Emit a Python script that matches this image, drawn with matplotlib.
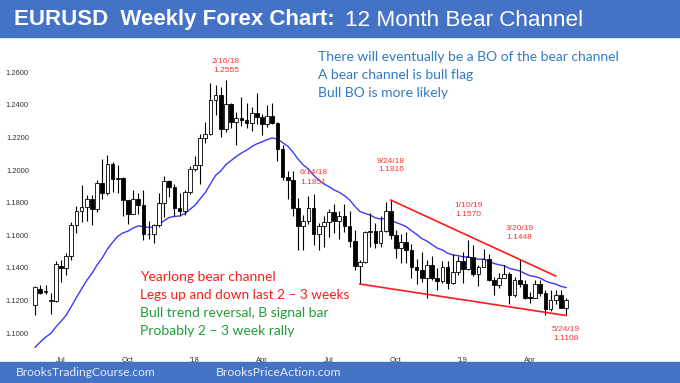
import numpy as np
import pandas as pd
import matplotlib
matplotlib.use("Agg")
import matplotlib.pyplot as plt
from matplotlib import font_manager as fm
from matplotlib.patches import Rectangle

# ---------------- data ----------------
start_week = "2017-05-29"
opens = [1.1172, 1.1272, 1.1252, 1.1196, 1.1197, 1.1412, 1.1400, 1.1470, 1.1664, 1.1750,
         1.1773, 1.1822, 1.1759, 1.1923, 1.1860, 1.2035, 1.1944, 1.1949, 1.1814, 1.1733,
         1.1823, 1.1785, 1.1608, 1.1607, 1.1664, 1.1796, 1.1935, 1.1899, 1.1768, 1.1751,
         1.1863, 1.2004, 1.2030, 1.2198, 1.2222, 1.2427, 1.2461, 1.2252, 1.2407, 1.2294,
         1.2318, 1.2307, 1.2288, 1.2353, 1.2324, 1.2280, 1.2331, 1.2288, 1.2129, 1.1960,
         1.1940, 1.1770, 1.1655, 1.1690, 1.1770, 1.1610, 1.1658, 1.1684, 1.1745, 1.1686,
         1.1719, 1.1656, 1.1567, 1.1410, 1.1438, 1.1622, 1.1624, 1.1553, 1.1625, 1.1747,
         1.1604, 1.1524, 1.1560, 1.1512, 1.1403, 1.1389, 1.1336, 1.1416, 1.1337, 1.1319,
         1.1404, 1.1305, 1.1372, 1.1441, 1.1394, 1.1468, 1.1364, 1.1408, 1.1457, 1.1326,
         1.1294, 1.1336, 1.1365, 1.1236, 1.1326, 1.1301, 1.1218, 1.1217, 1.1299, 1.1245,
         1.1150, 1.1200, 1.1234, 1.1157]
highs = [1.1290, 1.1296, 1.1295, 1.1246, 1.1445, 1.1448, 1.1490, 1.1680, 1.1777, 1.1910,
         1.1846, 1.1848, 1.1941, 1.2070, 1.2092, 1.2050, 1.2034, 1.1956, 1.1817, 1.1880,
         1.1860, 1.1880, 1.1688, 1.1667, 1.1861, 1.1961, 1.1940, 1.1912, 1.1862, 1.1880,
         1.2023, 1.2089, 1.2219, 1.2297, 1.2537, 1.2520, 1.2507, 1.2555, 1.2413, 1.2356,
         1.2446, 1.2413, 1.2388, 1.2476, 1.2346, 1.2397, 1.2414, 1.2296, 1.2154, 1.1996,
         1.1996, 1.1829, 1.1723, 1.1839, 1.1851, 1.1676, 1.1721, 1.1764, 1.1791, 1.1747,
         1.1790, 1.1749, 1.1635, 1.1450, 1.1625, 1.1734, 1.1676, 1.1720, 1.1802, 1.1816,
         1.1630, 1.1608, 1.1622, 1.1548, 1.1456, 1.1500, 1.1450, 1.1472, 1.1401, 1.1443,
         1.1442, 1.1486, 1.1474, 1.1498, 1.1570, 1.1540, 1.1416, 1.1514, 1.1488, 1.1342,
         1.1371, 1.1419, 1.1374, 1.1345, 1.1448, 1.1325, 1.1255, 1.1324, 1.1323, 1.1266,
         1.1265, 1.1264, 1.1264, 1.1216]
lows = [1.1111, 1.1240, 1.1240, 1.1120, 1.1190, 1.1313, 1.1355, 1.1450, 1.1612, 1.1683,
        1.1689, 1.1662, 1.1741, 1.1823, 1.1850, 1.1868, 1.1861, 1.1717, 1.1669, 1.1730,
        1.1731, 1.1574, 1.1575, 1.1554, 1.1652, 1.1714, 1.1836, 1.1717, 1.1718, 1.1722,
        1.1855, 1.1995, 1.1916, 1.2165, 1.2214, 1.2336, 1.2206, 1.2235, 1.2260, 1.2154,
        1.2273, 1.2258, 1.2241, 1.2281, 1.2215, 1.2262, 1.2281, 1.2055, 1.1939, 1.1821,
        1.1717, 1.1510, 1.1508, 1.1669, 1.1541, 1.1508, 1.1527, 1.1591, 1.1614, 1.1575,
        1.1622, 1.1529, 1.1387, 1.1301, 1.1430, 1.1528, 1.1525, 1.1526, 1.1620, 1.1575,
        1.1463, 1.1431, 1.1432, 1.1335, 1.1301, 1.1315, 1.1216, 1.1325, 1.1267, 1.1310,
        1.1269, 1.1300, 1.1355, 1.1309, 1.1390, 1.1353, 1.1289, 1.1405, 1.1321, 1.1234,
        1.1277, 1.1335, 1.1176, 1.1220, 1.1284, 1.1211, 1.1183, 1.1215, 1.1226, 1.1111,
        1.1136, 1.1176, 1.1152, 1.1108]
closes = [1.1283, 1.1246, 1.1258, 1.1200, 1.1424, 1.1400, 1.1470, 1.1664, 1.1750, 1.1773,
          1.1822, 1.1759, 1.1923, 1.1860, 1.2035, 1.1944, 1.1949, 1.1814, 1.1733, 1.1823,
          1.1785, 1.1608, 1.1607, 1.1664, 1.1796, 1.1935, 1.1899, 1.1768, 1.1751, 1.1863,
          1.2004, 1.2030, 1.2198, 1.2222, 1.2427, 1.2461, 1.2252, 1.2407, 1.2294, 1.2318,
          1.2307, 1.2288, 1.2353, 1.2324, 1.2280, 1.2331, 1.2288, 1.2129, 1.1960, 1.1940,
          1.1770, 1.1655, 1.1690, 1.1770, 1.1610, 1.1658, 1.1684, 1.1745, 1.1686, 1.1719,
          1.1656, 1.1567, 1.1410, 1.1438, 1.1622, 1.1624, 1.1553, 1.1625, 1.1747, 1.1604,
          1.1524, 1.1560, 1.1512, 1.1403, 1.1389, 1.1336, 1.1416, 1.1337, 1.1319, 1.1404,
          1.1305, 1.1372, 1.1441, 1.1394, 1.1468, 1.1364, 1.1408, 1.1457, 1.1326, 1.1294,
          1.1336, 1.1365, 1.1236, 1.1326, 1.1301, 1.1218, 1.1217, 1.1299, 1.1245, 1.1150,
          1.1200, 1.1234, 1.1157, 1.1203]

ema_period = 20
ema_seed = 1.0875          # level of the 20-bar EMA just before the first bar

y_ticks = [1.1000, 1.1200, 1.1400, 1.1600, 1.1800, 1.2000, 1.2200, 1.2400, 1.2600]
x_tick_months = ["2017-07", "2017-10", "2018-01", "2018-04", "2018-07", "2018-10", "2019-01", "2019-04"]
x_tick_labels = ["Jul", "Oct", "'18", "Apr", "Jul", "Oct", "'19", "Apr"]

# swing labels: bar index, text, above/below
swing_bars = [37, 54, 69, 84, 94, 103]
swing_dates = ["2/16/18", "6/14/18", "9/24/18", "1/10/19", "3/20/19", "5/24/19"]
swing_values = ["1.2555", "1.1851", "1.1816", "1.1570", "1.1448", "1.1108"]
swing_side = ["high", "high", "high", "high", "high", "low"]

# bear channel lines (bar index, price)
upper_line_x = [69, 101]
upper_line_y = [1.1816, 1.1350]
lower_line_x = [63, 103]
lower_line_y = [1.1301, 1.1108]

title_bold = "EURUSD  Weekly Forex Chart:"
title_rest = "12 Month Bear Channel"
blue_notes = ["There will eventually be a BO of the bear channel",
              "A bear channel is bull flag",
              "Bull BO is more likely"]
red_notes = ["Yearlong bear channel", "Legs up and down last 2 \u2013 3 weeks"]
green_notes = ["Bull trend reversal, B signal bar", "Probably 2 \u2013 3 week rally"]
footer = ["BrooksTradingCourse.com", "BrooksPriceAction.com"]

# ---------------- helpers ----------------
W, H = 680, 383
DPI = 100


def pick(fams):
    for f in fams:
        try:
            fm.findfont(fm.FontProperties(family=f), fallback_to_default=False)
            return f
        except Exception:
            continue
    return "DejaVu Sans"


narrow = pick(["Liberation Sans Narrow", "Arial Narrow", "Liberation Sans"])
sans = pick(["Liberation Sans", "DejaVu Sans"])
calib = pick(["Lato", "Open Sans", "DejaVu Sans"])

dates = pd.date_range(start_week, periods=len(closes), freq="W-MON")
fridays = dates + pd.Timedelta(days=4)
idx = np.arange(len(closes))
O = np.array(opens); Hh = np.array(highs); L = np.array(lows); C = np.array(closes)

ema = []
prev = ema_seed
a = 2.0 / (ema_period + 1)
for c in C:
    prev = prev + a * (c - prev)
    ema.append(prev)

fig = plt.figure(figsize=(W / DPI, H / DPI), dpi=DPI)
fig.patch.set_facecolor("white")


def P(x, y):
    return x / W, 1 - y / H


# axes placement (pixel box)
ax_l, ax_r, ax_t, ax_b = 33, 680, 38, 350
ax = fig.add_axes([ax_l / W, 1 - ax_b / H, (ax_r - ax_l) / W, (ax_b - ax_t) / H])
ax.set_facecolor("white")
for s in ax.spines.values():
    s.set_visible(False)

# price scale: 0.02 per 32.6 px, 1.2600 at y=72.3
ppx = 0.02 / 32.6
ax.set_ylim(1.26 - (ax_b - 72.3) * ppx, 1.26 + (72.3 - ax_t) * ppx)
bpx = 5.154
x0 = 35.2
ax.set_xlim((ax_l - x0) / bpx, (ax_r - x0) / bpx)

# candles
ax.vlines(idx, L, Hh, color="black", lw=0.8, zorder=2)
up = C >= O
body_lo = np.minimum(O, C)
body_h = np.maximum(np.abs(C - O), 0.0003)
ax.bar(idx[up], body_h[up], bottom=body_lo[up], width=0.72, color="white",
       edgecolor="black", linewidth=0.6, zorder=3)
ax.bar(idx[~up], body_h[~up], bottom=body_lo[~up], width=0.72, color="black",
       edgecolor="black", linewidth=0.6, zorder=3)

# EMA
ax.plot(idx, ema, color="#3b3bf5", lw=1.0, zorder=1)

# channel lines
ax.plot(upper_line_x, upper_line_y, color="#ff1a1a", lw=1.2, zorder=4)
ax.plot(lower_line_x, lower_line_y, color="#ff1a1a", lw=1.2, zorder=4)

# ticks
ax.set_yticks(y_ticks)
ax.set_yticklabels([f"{v:.4f}" for v in y_ticks], fontsize=5.4, family=sans, color="#333333")
tick_pos = []
for m in x_tick_months:
    per = pd.Period(m, "M")
    tick_pos.append(int(np.argmax(fridays.to_period("M") == per)))
ax.set_xticks(tick_pos)
ax.set_xticklabels(x_tick_labels, fontsize=5.4, family=sans, color="#333333")
ax.tick_params(length=0, pad=3)
ax.tick_params(axis="x", pad=5)

# swing labels (pixel offsets of the two text lines from the extreme)
offs_date = [18.6, 21.7, 39.0, 35.0, 32.0, -14.5]
offs_val = [9.6, 12.0, 30.7, 26.0, 22.5, -22.8]
for b, d, v, sd, od, ov in zip(swing_bars, swing_dates, swing_values, swing_side, offs_date, offs_val):
    yv = Hh[b] if sd == "high" else L[b]
    for txt, off in ((d, od), (v, ov)):
        ax.annotate(txt, (b, yv), xytext=(0, off), textcoords="offset pixels",
                    ha="center", va="center", fontsize=6.0, family=sans, color="#ff3030",
                    annotation_clip=False)

# banners
fig.patches.append(Rectangle((0, 1 - 37 / H), 1, 37 / H, transform=fig.transFigure,
                             color="#4472c4", zorder=0))
fig.patches.append(Rectangle((0, 0), 1, 21 / H, transform=fig.transFigure,
                             color="#4472c4", zorder=0))

texts = []
t1 = fig.text(*P(14, 20), title_bold, color="white", fontsize=16, fontweight="bold",
              family=narrow, va="center", ha="left")
t2 = fig.text(*P(345, 20), title_rest, color="white", fontsize=16,
              family=narrow, va="center", ha="left")
texts += [(t1, 322), (t2, 238)]

for s, yy in zip(blue_notes, [56.7, 75.0, 93.3]):
    t = fig.text(*P(318, yy), s, color="#2f7ac4", fontsize=10, family=calib, va="center")
    if s == blue_notes[0]:
        texts.append((t, 300))
    else:
        texts.append((t, None))
red_y = [276.7, 295.0]
green_y = [312.7, 330.7]
for s, yy in zip(red_notes, red_y):
    t = fig.text(*P(140, yy), s, color="#ff1a1a", fontsize=10, family=calib, va="center")
    texts.append((t, 208 if "Legs" in s else None))
for s, yy in zip(green_notes, green_y):
    t = fig.text(*P(140, yy), s, color="#1f9e3a", fontsize=10, family=calib, va="center")
    texts.append((t, None))

f1 = fig.text(*P(16, 373), footer[0], color="#e4ebf5", fontsize=10, family=calib, va="center")
f2 = fig.text(*P(216, 373), footer[1], color="#e4ebf5", fontsize=10, family=calib, va="center")
texts += [(f1, 141), (f2, 126)]

# fit text sizes to target widths
fig.canvas.draw()
r = fig.canvas.get_renderer()
note_scale = None
for t, wpx in texts:
    if wpx is not None:
        w = t.get_window_extent(r).width
        k = wpx / w
        t.set_fontsize(t.get_fontsize() * k)
        if t.get_text() == blue_notes[0]:
            note_scale = k
for t, wpx in texts:
    if wpx is None and note_scale is not None:
        t.set_fontsize(t.get_fontsize() * note_scale)

fig.savefig("out.png", dpi=DPI, facecolor="white")
